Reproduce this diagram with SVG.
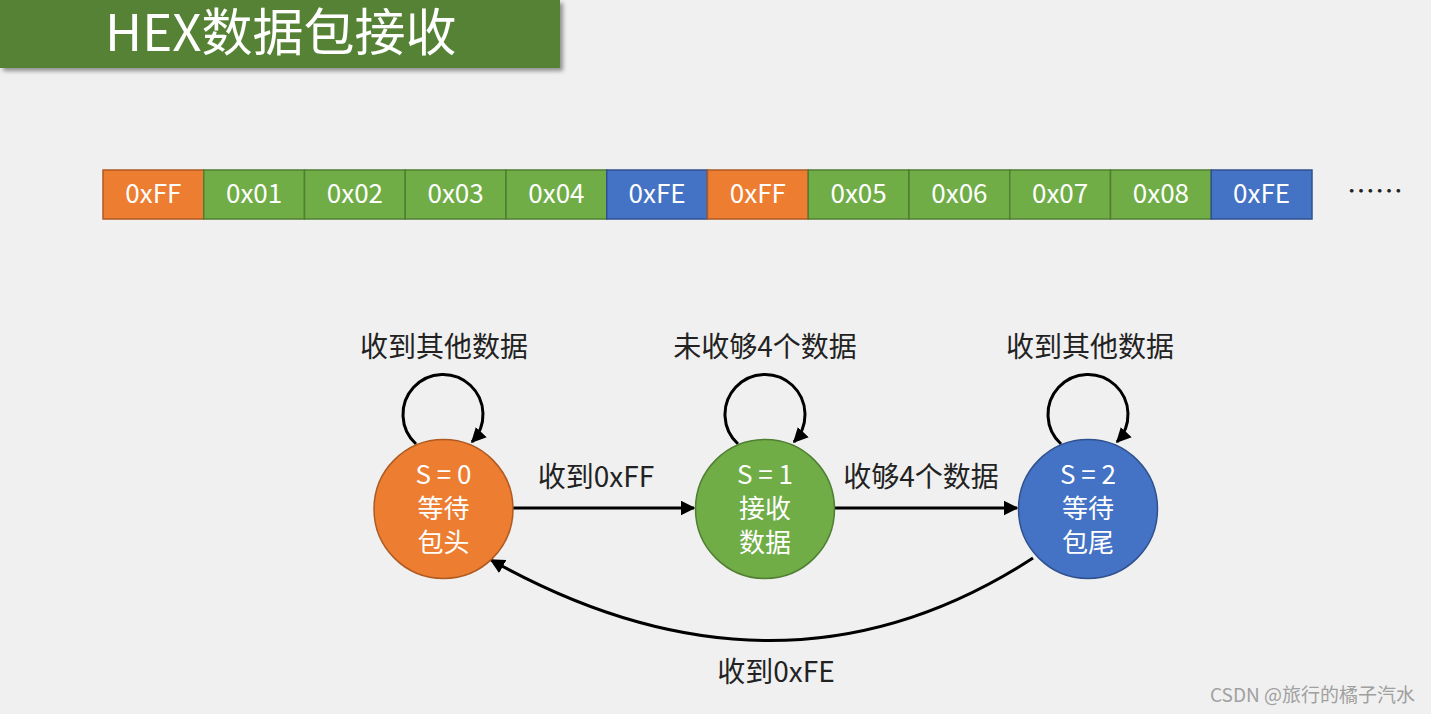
<svg xmlns="http://www.w3.org/2000/svg" width="1431" height="714" viewBox="0 0 1431 714">
<defs>
<style>
.cjk{font-family:"Noto Sans CJK SC","Noto Sans",sans-serif;}
.cell{stroke-width:1.5;}
.o{fill:#ED7D31;stroke:#AE5A21;}
.g{fill:#70AD47;stroke:#507E32;}
.b{fill:#4472C4;stroke:#2F528F;}
.ct{fill:#ffffff;font-size:26px;text-anchor:middle;}
.nt{fill:#ffffff;font-size:26px;text-anchor:middle;}
.lb{fill:#222222;font-size:28px;text-anchor:middle;}
.edge{fill:none;stroke:#000000;stroke-width:3;}
</style>
<marker id="arr" viewBox="0 0 10 10" refX="9" refY="5" markerWidth="5" markerHeight="5" orient="auto" markerUnits="strokeWidth">
<path d="M0,0 L10,5 L0,10 z" fill="#000000"/>
</marker>
<filter id="sh" x="-5%" y="-20%" width="115%" height="150%">
<feDropShadow dx="3" dy="3" stdDeviation="2" flood-color="#000000" flood-opacity="0.4"/>
</filter>
</defs>
<rect x="0" y="0" width="1431" height="714" fill="#F0F0F0"/>
<g id="title">
<rect x="0" y="0" width="560" height="68" fill="#548235" filter="url(#sh)"/>
<text x="105" y="51" class="cjk" font-size="51" fill="#ffffff">HEX数据包接收</text>
</g>
<g id="bytes" class="cjk">
<rect class="cell o" x="103" y="170" width="100.75" height="49"/>
<rect class="cell g" x="203.75" y="170" width="100.75" height="49"/>
<rect class="cell g" x="304.5" y="170" width="100.75" height="49"/>
<rect class="cell g" x="405.25" y="170" width="100.75" height="49"/>
<rect class="cell g" x="506" y="170" width="100.75" height="49"/>
<rect class="cell b" x="606.75" y="170" width="100.75" height="49"/>
<rect class="cell o" x="707.5" y="170" width="100.75" height="49"/>
<rect class="cell g" x="808.25" y="170" width="100.75" height="49"/>
<rect class="cell g" x="909" y="170" width="100.75" height="49"/>
<rect class="cell g" x="1009.75" y="170" width="100.75" height="49"/>
<rect class="cell g" x="1110.5" y="170" width="100.75" height="49"/>
<rect class="cell b" x="1211.25" y="170" width="100.75" height="49"/>
<text class="ct" x="153.4" y="203">0xFF</text>
<text class="ct" x="254.1" y="203">0x01</text>
<text class="ct" x="354.9" y="203">0x02</text>
<text class="ct" x="455.6" y="203">0x03</text>
<text class="ct" x="556.4" y="203">0x04</text>
<text class="ct" x="657.1" y="203">0xFE</text>
<text class="ct" x="757.9" y="203">0xFF</text>
<text class="ct" x="858.6" y="203">0x05</text>
<text class="ct" x="959.4" y="203">0x06</text>
<text class="ct" x="1060.1" y="203">0x07</text>
<text class="ct" x="1160.9" y="203">0x08</text>
<text class="ct" x="1261.6" y="203">0xFE</text>
<text x="1347" y="202" font-size="28" fill="#222222">……</text>
</g>
<g id="connectors" class="cjk">
<path class="edge" d="M416,444 A40,40 0 1 1 472,442" marker-end="url(#arr)"/>
<path class="edge" d="M738,444 A40,40 0 1 1 794,442" marker-end="url(#arr)"/>
<path class="edge" d="M1061,444 A40,40 0 1 1 1117,442" marker-end="url(#arr)"/>
<line class="edge" x1="513" y1="508" x2="694" y2="508" marker-end="url(#arr)"/>
<line class="edge" x1="835" y1="508" x2="1017" y2="508" marker-end="url(#arr)"/>
<path class="edge" d="M1033,558 Q780,722 491,560" marker-end="url(#arr)"/>
<text class="lb" x="444" y="357">收到其他数据</text>
<text class="lb" x="765" y="357">未收够4个数据</text>
<text class="lb" x="1090" y="357">收到其他数据</text>
<text class="lb" x="596" y="487">收到0xFF</text>
<text class="lb" x="921" y="487">收够4个数据</text>
<text class="lb" x="776" y="682">收到0xFE</text>
</g>
<g id="s0" class="cjk">
<circle cx="443.5" cy="509" r="69.5" fill="#ED7D31" stroke="#AE5A21" stroke-width="1.5"/>
<text class="nt" x="443.5" y="484">S = 0</text>
<text class="nt" x="443.5" y="518">等待</text>
<text class="nt" x="443.5" y="552">包头</text>
</g>
<g id="s1" class="cjk">
<circle cx="765" cy="509" r="69.5" fill="#70AD47" stroke="#507E32" stroke-width="1.5"/>
<text class="nt" x="765" y="484">S = 1</text>
<text class="nt" x="765" y="518">接收</text>
<text class="nt" x="765" y="552">数据</text>
</g>
<g id="s2" class="cjk">
<circle cx="1088" cy="509" r="69.5" fill="#4472C4" stroke="#2F528F" stroke-width="1.5"/>
<text class="nt" x="1088" y="484">S = 2</text>
<text class="nt" x="1088" y="518">等待</text>
<text class="nt" x="1088" y="552">包尾</text>
</g>
<text class="cjk" x="1415" y="702" font-size="19" fill="#A0A0A0" text-anchor="end">CSDN @旅行的橘子汽水</text>
</svg>
